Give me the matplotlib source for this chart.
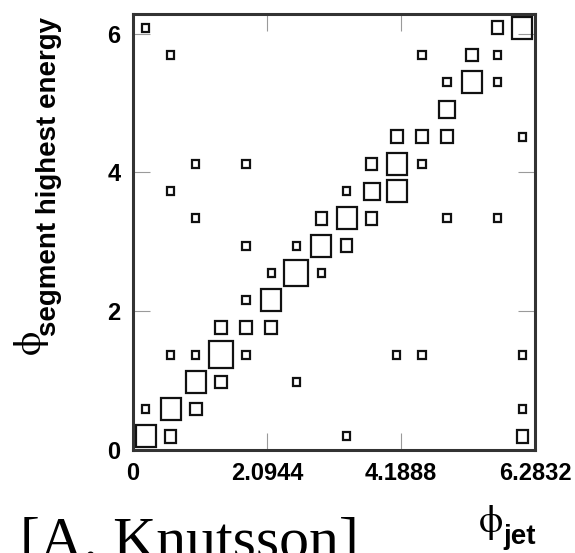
import numpy as np
import matplotlib
matplotlib.use('Agg')
import matplotlib.pyplot as plt
from matplotlib.patches import Rectangle

# 16 x 16 bins in phi over [0, 2pi]
phi_max = 2 * np.pi
n_bins = 16

# filled cells: jet phi bin, segment phi bin, entries
jet_bin = [0, 1, 8, 15,
           0, 1, 2, 15,
           2, 3, 6,
           1, 2, 3, 4, 10, 11, 15,
           3, 4, 5,
           4, 5,
           5, 6, 7,
           4, 6, 7, 8,
           2, 7, 8, 9, 12, 14,
           1, 8, 9, 10,
           2, 4, 9, 10, 11,
           10, 11, 12, 15,
           12,
           12, 13, 14,
           1, 11, 13, 14,
           0, 14, 15]
seg_bin = [0, 0, 0, 0,
           1, 1, 1, 1,
           2, 2, 2,
           3, 3, 3, 3, 3, 3, 3,
           4, 4, 4,
           5, 5,
           6, 6, 6,
           7, 7, 7, 7,
           8, 8, 8, 8, 8, 8,
           9, 9, 9, 9,
           10, 10, 10, 10, 10,
           11, 11, 11, 11,
           12,
           13, 13, 13,
           14, 14, 14, 14,
           15, 15, 15]
entries = [4, 2, 1, 2,
           1, 4, 2, 1,
           4, 2, 1,
           1, 1, 5, 1, 1, 1, 1,
           2, 2, 2,
           1, 4,
           1, 5, 1,
           1, 1, 4, 2,
           1, 2, 4, 2, 1, 1,
           1, 1, 3, 4,
           1, 1, 2, 4, 1,
           2, 2, 2, 1,
           3,
           1, 4, 1,
           1, 1, 2, 1,
           1, 2, 4]

x_ticks = [0, 2 * np.pi / 3, 4 * np.pi / 3, 2 * np.pi]
x_tick_labels = ['0', '2.0944', '4.1888', '6.2832']
y_ticks = [0, 2, 4, 6]
y_tick_labels = ['0', '2', '4', '6']

plt.rcParams['font.family'] = ['Liberation Sans', 'DejaVu Sans']

W, H = 575, 553
fig = plt.figure(figsize=(W / 100, H / 100), dpi=100)
ax = fig.add_axes([133 / W, 103 / H, 402 / W, 436 / H])

# box plot: box side grows with the cell content
bw = phi_max / n_bins
for i, j, c in zip(jet_bin, seg_bin, entries):
    f = 0.12 + 0.17 * c
    xc = (i + 0.5) * bw
    yc = (j + 0.5) * bw
    ax.add_patch(Rectangle((xc - f * bw / 2, yc - f * bw / 2), f * bw, f * bw,
                           fill=False, lw=1.6, ec='#111111', zorder=2))

ax.set_xlim(0, phi_max)
ax.set_ylim(0, phi_max)

for s in ax.spines.values():
    s.set_linewidth(2.2)
    s.set_color('#333333')
    s.set_zorder(3)

ax.set_xticks(x_ticks)
ax.set_xticklabels(x_tick_labels)
ax.set_yticks(y_ticks)
ax.set_yticklabels(y_tick_labels)
ax.tick_params(direction='in', length=12.5, width=0.8, color='#9a9a9a',
               top=True, right=True, labelsize=17)
ax.tick_params(axis='x', pad=9)
ax.tick_params(axis='y', pad=9)
for lab in ax.get_xticklabels() + ax.get_yticklabels():
    lab.set_fontweight('bold')

# axis titles
fig.text(30 / W, 1 - 342 / H, '\u03d5', fontsize=28, family='STIXGeneral',
         rotation=90, ha='center', va='center')
fig.text(56 / W, 1 - 336 / H, 'segment highest energy', fontsize=20,
         fontweight='bold', rotation=90, rotation_mode='anchor',
         ha='left', va='baseline')
fig.text(491 / W, 1 - 522 / H, '\u03d5', fontsize=28, family='STIXGeneral',
         ha='center', va='center')
fig.text(503 / W, 1 - 544 / H, 'jet', fontsize=20, fontweight='bold',
         ha='left', va='baseline')

fig.text(20 / W, 1 - 558 / H, '[A. Knutsson]', fontsize=43,
         family='Liberation Serif', ha='left', va='baseline')

fig.savefig('out.png', dpi=100)
